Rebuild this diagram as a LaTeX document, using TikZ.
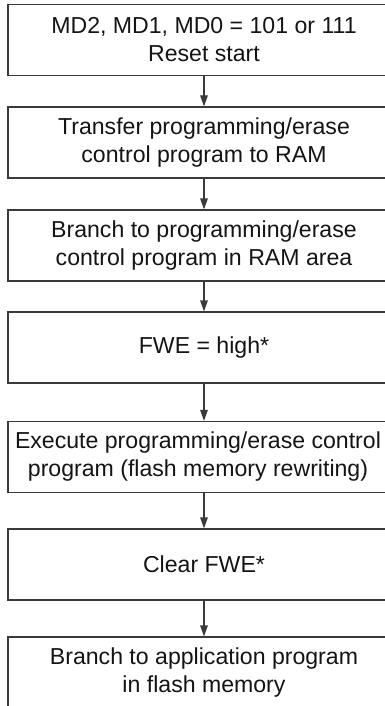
\documentclass[tikz,border=0pt]{standalone}
\usepackage{fontspec}
\setmainfont{Liberation Sans}
\usetikzlibrary{arrows.meta}
\definecolor{linegray}{HTML}{3A3A3A}

\begin{document}
\begin{tikzpicture}[x=1pt, y=-1pt, line width=1.1pt,
  block/.style={draw=linegray, rectangle, minimum width=392pt,
    minimum height=71pt, inner sep=0pt, align=center,
    font=\fontsize{23.1}{28}\selectfont, text=black!92},
  flow/.style={draw=linegray, -{Triangle[length=11pt,width=7.5pt]}}]

\useasboundingbox (0,0) rectangle (385,706);

% Steps
\node[block] (reset) at (204,40)    {MD2, MD1, MD0 = 101 or 111\\Reset start};
\node[block] (xfer)  at (204,142.5) {Transfer programming/erase\\control program to RAM};
\node[block] (jram)  at (204,245.5) {Branch to programming/erase\\control program in RAM area};
\node[block] (fweh)  at (204,347.5) {FWE = high*};
% widest text, sits a little left of centre
\node[block, minimum width=380pt] (exec) at (198,457)
  {Execute programming/erase control\\program (flash memory rewriting)};
\node[block] (fwec)  at (204,564.5) {Clear FWE*};
\node[block] (japp)  at (204,672.5) {Branch to application program\\in flash memory};

% Arrows
\draw[flow] (reset) -- (xfer);
\draw[flow] (xfer) -- (jram);
\draw[flow] (jram) -- (fweh);
\draw[flow] (fweh.south) -- (fweh.south |- exec.north);
\draw[flow] (fweh.south |- exec.south) -- (fwec.north);
\draw[flow] (fwec) -- (japp);

\end{tikzpicture}
\end{document}
